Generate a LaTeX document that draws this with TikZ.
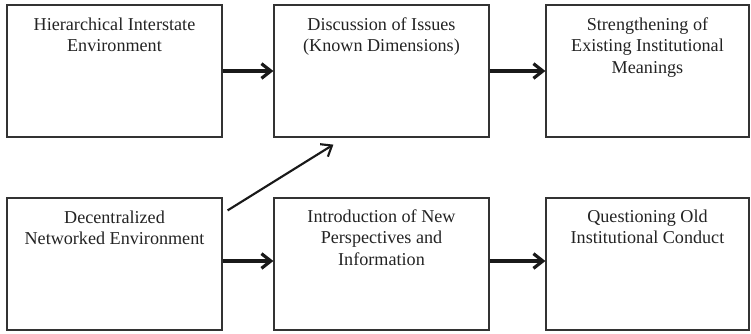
\documentclass[tikz,border=0pt]{standalone}
\usepackage{fontspec}
\setmainfont{Liberation Serif}
\usetikzlibrary{arrows.meta,calc}
\definecolor{boxline}{HTML}{333333}
\definecolor{inktext}{HTML}{232323}
\begin{document}
\begin{tikzpicture}[x=0.75pt, y=-0.75pt,
    stagebox/.style={draw=boxline, line width=0.9pt, minimum width=161.25pt, minimum height=99pt, inner sep=0pt},
    stagetext/.style={anchor=north, align=center, inner sep=0pt, text=inktext,
        font=\fontsize{13.6}{16}\selectfont},
    flow/.style={draw=black!90, line width=2.4pt, -{Straight Barb[length=7pt, width=11pt]}},
    thinflow/.style={draw=black!90, line width=1.6pt, -{Straight Barb[length=7pt, width=11pt]}}]
                \useasboundingbox (0,0) rectangle (751,333);

                %Draw the top row of boxes
                \node[stagebox] (hier) at (114.5,71) {};
                \node[stagebox] (disc) at (381.5,71) {};
                \node[stagebox, minimum width=152.25pt] (streng) at (647.5,71) {};

                %Draw the bottom row of boxes
                \node[stagebox] (decent) at (114.5,264) {};
                \node[stagebox] (intro) at (381.5,264) {};
                \node[stagebox, minimum width=152.25pt] (quest) at (647.5,264) {};

                %Texts at the top of each box
                \node[stagetext] (hierT) at ($(hier.north)+(0,13)$) {Hierarchical Interstate\\Environment};
                \node[stagetext] (discT) at ($(disc.north)+(0,13)$) {Discussion of Issues\\(Known Dimensions)};
                \node[stagetext] (strengT) at ($(streng.north)+(0,13)$) {Strengthening of\\Existing Institutional\\Meanings};
                \node[stagetext] (decentT) at ($(decent.north)+(0,13)$) {Decentralized\\Networked Environment};
                \node[stagetext] (introT) at ($(intro.north)+(0,12)$) {Introduction of New\\Perspectives and\\Information};
                \node[stagetext] (questT) at ($(quest.north)+(0,12)$) {Questioning Old\\Institutional Conduct};

                %Draw the arrows
                \draw[flow] (hier.east) -- (disc.west);
                \draw[flow] (disc.east) -- (streng.west);
                \draw[flow] ($(decent.east)+(0,-3)$) -- ($(intro.west)+(0,-3)$);
                \draw[flow] ($(intro.east)+(0,-3)$) -- ($(quest.west)+(0,-3)$);
                \coordinate (diagS) at ($(decent.north east)+(5,13)$);
                \coordinate (diagE) at ($(disc.south west)+(60,7)$);
                \draw[thinflow] (diagS) -- (diagE);

            \end{tikzpicture}
\end{document}
